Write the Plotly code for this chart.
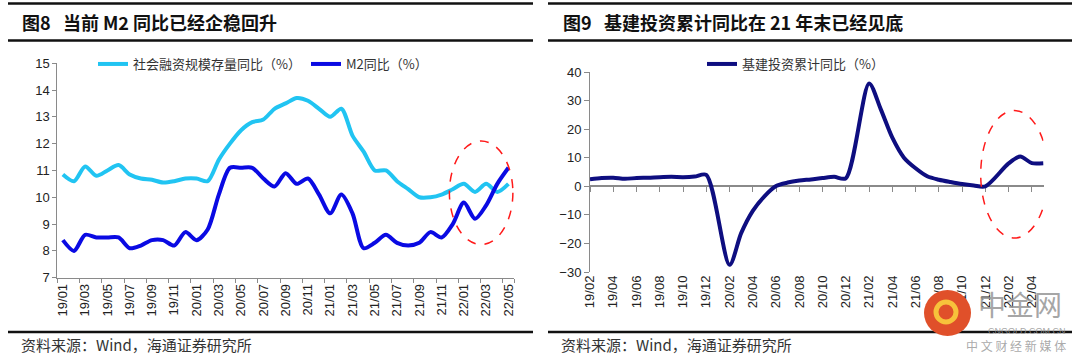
import plotly.graph_objects as go

# ---------------- data ----------------
months_a = ["19/01", "19/02", "19/03", "19/04", "19/05", "19/06", "19/07", "19/08", "19/09", "19/10", "19/11", "19/12",
            "20/01", "20/02", "20/03", "20/04", "20/05", "20/06", "20/07", "20/08", "20/09", "20/10", "20/11", "20/12",
            "21/01", "21/02", "21/03", "21/04", "21/05", "21/06", "21/07", "21/08", "21/09", "21/10", "21/11", "21/12",
            "22/01", "22/02", "22/03", "22/04", "22/05"]
tsf_yoy = [10.85, 10.6, 11.15, 10.8, 11.0, 11.2, 10.85, 10.7, 10.65, 10.55, 10.6, 10.7,
           10.7, 10.6, 11.4, 12.0, 12.5, 12.8, 12.9, 13.3, 13.5, 13.7, 13.6, 13.3,
           13.0, 13.3, 12.3, 11.7, 11.0, 11.0, 10.6, 10.3, 10.0, 10.0, 10.1, 10.3,
           10.5, 10.2, 10.5, 10.2, 10.5]
m2_yoy = [8.4, 8.0, 8.6, 8.5, 8.5, 8.5, 8.1, 8.2, 8.4, 8.4, 8.2, 8.7,
          8.4, 8.8, 10.1, 11.1, 11.1, 11.1, 10.7, 10.4, 10.9, 10.5, 10.7, 10.1,
          9.4, 10.1, 9.4, 8.1, 8.3, 8.6, 8.3, 8.2, 8.3, 8.7, 8.5, 9.0,
          9.8, 9.2, 9.7, 10.5, 11.1]
ticks_a = ["19/01", "19/03", "19/05", "19/07", "19/09", "19/11", "20/01", "20/03", "20/05", "20/07", "20/09",
           "20/11", "21/01", "21/03", "21/05", "21/07", "21/09", "21/11", "22/01", "22/03", "22/05"]

months_b = ["19/02", "19/03", "19/04", "19/05", "19/06", "19/07", "19/08", "19/09", "19/10", "19/11", "19/12",
            "20/01", "20/02", "20/03", "20/04", "20/05", "20/06", "20/07", "20/08", "20/09", "20/10", "20/11", "20/12",
            "21/01", "21/02", "21/03", "21/04", "21/05", "21/06", "21/07", "21/08", "21/09", "21/10", "21/11", "21/12",
            "22/01", "22/02", "22/03", "22/04", "22/05"]
infra_yoy = [2.5, 2.9, 3.0, 2.6, 2.9, 3.0, 3.2, 3.3, 3.2, 3.4, 4.0,
             None, -27.5, -16.4, -8.6, -3.5, 0.1, 1.3, 2.0, 2.4, 2.9, 3.3, 2.8,
             None, 36.0, 27.0, 17.0, 10.0, 6.3, 3.5, 2.3, 1.5, 0.8, 0.3, 0.0,
             None, 8.0, 10.4, 8.1, 8.1]
ticks_b = ["19/02", "19/04", "19/06", "19/08", "19/10", "19/12", "20/02", "20/04", "20/06", "20/08",
           "20/10", "20/12", "21/02", "21/04", "21/06", "21/08", "21/10", "21/12", "22/02", "22/04"]

# ---------------- style ----------------
W, H = 1080, 361
C_TSF = "#21C4F2"
C_M2 = "#0A0AE3"
C_INF = "#0E0E80"
GRAY = "#8a8a8a"
CJK = "Noto Sans CJK SC"
NUM = "Liberation Sans, Arial"


def px(x):
    return x / W


def py(y):
    return 1 - y / H


xa_dom = [px(57.3), px(514.0)]
ya_dom = [py(277.7), py(63.2)]
xb_dom = [px(590.0), px(1043.5)]
yb_dom = [py(272.0), py(72.0)]
yb_range = [-30, 40]
zero_pos = yb_dom[0] + (0 - yb_range[0]) / (yb_range[1] - yb_range[0]) * (yb_dom[1] - yb_dom[0])

fig = go.Figure()
fig.add_trace(go.Scatter(x=months_a, y=tsf_yoy, name="社会融资规模存量同比（%）", mode="lines",
                         line=dict(color=C_TSF, width=4, shape="spline", smoothing=0.8),
                         xaxis="x", yaxis="y", legend="legend"))
fig.add_trace(go.Scatter(x=months_a, y=m2_yoy, name="M2同比（%）", mode="lines",
                         line=dict(color=C_M2, width=4, shape="spline", smoothing=0.8),
                         xaxis="x", yaxis="y", legend="legend"))
fig.add_trace(go.Scatter(x=months_b, y=infra_yoy, name="", mode="lines", showlegend=False,
                         hoverinfo="skip", connectgaps=True, line=dict(width=0), opacity=0,
                         xaxis="x3", yaxis="y2"))
fig.add_trace(go.Scatter(x=months_b, y=infra_yoy, name="基建投资累计同比（%）", mode="lines", connectgaps=True,
                         line=dict(color=C_INF, width=4, shape="spline", smoothing=0.8),
                         xaxis="x2", yaxis="y2", legend="legend2"))

tickfont_x = dict(family=NUM, size=13, color="#222")
tickfont_y = dict(family=NUM, size=13, color="#222")

fig.update_layout(
    width=W, height=H, autosize=False,
    margin=dict(l=0, r=0, t=0, b=0, pad=0, autoexpand=False),
    paper_bgcolor="white", plot_bgcolor="white",
    xaxis=dict(domain=xa_dom, anchor="y", type="category", categoryorder="array", categoryarray=months_a,
               range=[-0.5, 40.5], tickmode="array", tickvals=ticks_a, tickson="boundaries",
               ticks="outside", ticklen=4, tickcolor=GRAY, showline=True, linecolor=GRAY, linewidth=1,
               tickangle=-90, tickfont=tickfont_x, showgrid=False, zeroline=False, automargin=False),
    yaxis=dict(domain=ya_dom, anchor="x", range=[7, 15], dtick=1, ticks="outside", ticklen=4,
               tickcolor=GRAY, showline=True, linecolor=GRAY, linewidth=1, tickfont=tickfont_y,
               showgrid=False, zeroline=False, automargin=False),
    xaxis2=dict(domain=xb_dom, anchor="y2", type="category", categoryorder="array", categoryarray=months_b,
                range=[0, 39], tickmode="array", tickvals=ticks_b, ticks="", showline=False,
                tickangle=-90, tickfont=tickfont_x, showgrid=False, zeroline=False, automargin=False),
    xaxis3=dict(domain=xb_dom, overlaying="x2", anchor="free", position=zero_pos, type="category",
                categoryorder="array", categoryarray=months_b, range=[0, 39], tickmode="array",
                tickvals=ticks_b, ticks="outside", ticklen=5, tickcolor=GRAY, showticklabels=False,
                showline=True, linecolor=GRAY, linewidth=2, layer="below traces",
                showgrid=False, zeroline=False, automargin=False),
    yaxis2=dict(domain=yb_dom, anchor="x2", range=yb_range, dtick=10, ticks="outside", ticklen=5,
                tickcolor=GRAY, showline=True, linecolor=GRAY, linewidth=1, tickfont=tickfont_y,
                showgrid=False, zeroline=False, automargin=False),
    legend=dict(orientation="h", x=px(93), y=py(64), xanchor="left", yanchor="middle",
                font=dict(family=CJK, size=13, color="#333"), bgcolor="rgba(0,0,0,0)"),
    legend2=dict(orientation="h", x=px(702), y=py(64), xanchor="left", yanchor="middle",
                 font=dict(family=CJK, size=13, color="#333"), bgcolor="rgba(0,0,0,0)"),
    showlegend=True,
)

shapes = []
# rules
for (x0, x1) in [(8, 533), (548, 1072)]:
    for y, wdt in [(3.5, 2.5), (40.5, 2.5), (332, 2.5)]:
        shapes.append(dict(type="line", xref="paper", yref="paper", x0=px(x0), x1=px(x1), y0=py(y), y1=py(y),
                           line=dict(color="#111", width=wdt)))
# highlight ellipses
shapes.append(dict(type="circle", xref="x", yref="y", x0=34.7, x1=40.4, y0=8.24, y1=12.1,
                   line=dict(color="#FF1A1A", width=1.5, dash="dash")))
shapes.append(dict(type="circle", xref="x2", yref="y2", x0=33.6, x1=39.4, y0=-18.1, y1=26.5,
                   line=dict(color="#FF1A1A", width=1.5, dash="dash")))
# watermark logo circle
shapes.append(dict(type="circle", xref="paper", yref="paper", x0=px(924), x1=px(971), y0=py(336), y1=py(290),
                   fillcolor="#E0502A", line=dict(width=0)))
shapes.append(dict(type="circle", xref="paper", yref="paper", x0=px(936), x1=px(956), y0=py(322), y1=py(302),
                   fillcolor="rgba(0,0,0,0)", line=dict(color="#F7C23B", width=5)))
fig.update_layout(shapes=shapes)

ann = [
    dict(text="<b>图8   当前 M2 同比已经企稳回升</b>", x=px(20), y=py(22.5), xanchor="left", yanchor="middle",
         font=dict(family=CJK, size=18, color="#111")),
    dict(text="<b>图9   基建投资累计同比在 21 年末已经见底</b>", x=px(561), y=py(22.5), xanchor="left",
         yanchor="middle", font=dict(family=CJK, size=18, color="#111")),
    dict(text="资料来源：Wind，海通证券研究所", x=px(19), y=py(344), xanchor="left", yanchor="middle",
         font=dict(family=CJK, size=15, color="#333")),
    dict(text="资料来源：Wind，海通证券研究所", x=px(559), y=py(344), xanchor="left", yanchor="middle",
         font=dict(family=CJK, size=15, color="#333")),
    dict(text="中金网", x=px(976), y=py(304), xanchor="left", yanchor="middle",
         font=dict(family=CJK, size=28, color="rgba(150,150,150,0.85)")),
    dict(text="CNGOLD.COM.CN", x=px(1068), y=py(331), xanchor="right", yanchor="middle",
         font=dict(family=NUM, size=9, color="rgba(150,150,150,0.85)")),
    dict(text="中 文 财 经 新 媒 体", x=px(1068), y=py(345), xanchor="right", yanchor="middle",
         font=dict(family=CJK, size=12, color="rgba(160,160,160,0.9)")),
]
for a in ann:
    a.update(xref="paper", yref="paper", showarrow=False)
fig.update_layout(annotations=ann)

fig.write_html("out.html", config={"displayModeBar": False},
               post_script="document.body.style.margin='0';document.body.style.overflow='hidden';")
